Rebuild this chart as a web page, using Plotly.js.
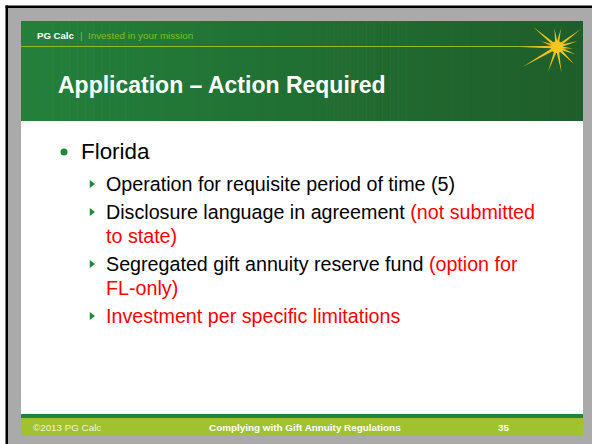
<!DOCTYPE html>
<html>
<head>
<meta charset="utf-8">
<script src="https://cdn.plot.ly/plotly-3.0.1.min.js"></script>
<style>html,body{margin:0;padding:0;background:#fff;}#slide{width:592px;height:444px;}</style>
</head>
<body>
<div id="slide"></div>
<script>
// ---- content (data) ----
const brandName = "PG Calc";
const brandTagline = "Invested in your mission";
const slideTitle = "Application \u2013 Action Required";
const topBullet = "Florida";
const itemMain = [
  "Operation for requisite period of time (5)",
  "Disclosure language in agreement",
  "Segregated gift annuity reserve fund",
  ""
];
const itemNote = [
  "",
  "(not submitted\nto state)",
  "(option for\nFL-only)",
  "Investment per specific limitations"
];
const footerLeft = "\u00A92013 PG Calc";
const footerCenter = "Complying with Gift Annuity Regulations";
const footerPage = "35";
// star rays (angle in degrees, length in px) – decoration
const rayAngles = [-140, -98, -78, -37, -16, 5, 22, 45, 80, 110, 150, 180, 200];
const rayLengths = [31, 19, 19, 30, 21, 16, 20, 24, 26, 26, 40, 37, 17];

// ---- drawing ----
const FONT = "Liberation Sans, Arial, sans-serif";
const RED = "#ff0000";
const GREEN = "#1e8a35";
const shapes = [];
const annotations = [];
function rect(x0, y0, x1, y1, color) {
  shapes.push({type: "rect", xref: "x", yref: "y", x0, y0, x1, y1, fillcolor: color, line: {width: 0}, layer: "below"});
}
// frame
rect(8, 8, 592, 444, "#aaaaaa");
rect(5.5, 5.5, 592, 8, "#000000");
rect(5.5, 5.5, 8, 444, "#000000");
// header gradient
const c0 = [35, 128, 59], c1 = [31, 94, 42];
const N = 70, hx0 = 21, hx1 = 583;
for (let i = 0; i < N; i++) {
  const t = i / (N - 1);
  const c = c0.map((v, k) => Math.round(v + (c1[k] - v) * t));
  const xa = hx0 + (hx1 - hx0) * i / N, xb = hx0 + (hx1 - hx0) * (i + 1) / N + 0.5;
  rect(xa, 21, Math.min(xb, hx1), 121, `rgb(${c[0]},${c[1]},${c[2]})`);
}
// lime line under brand
shapes.push({type: "line", xref: "x", yref: "y", x0: 21, x1: 545, y0: 46.5, y1: 46.5, line: {color: "#8cbf1e", width: 1}});
// content area
rect(21, 121, 583, 414, "#ffffff");
rect(21, 414, 583, 418, "#20853a");
rect(21, 418, 583, 436, "#a0c230");

// star
const sx = 557, sy = 47;
let path = "";
rayAngles.forEach((a, i) => {
  const r = a * Math.PI / 180, L = rayLengths[i], w = 1.6;
  const tx = sx + L * Math.cos(r), ty = sy + L * Math.sin(r);
  const px = -Math.sin(r) * w, py = Math.cos(r) * w;
  path += `M${sx + px},${sy + py} L${tx},${ty} L${sx - px},${sy - py} Z `;
});
shapes.push({type: "path", xref: "x", yref: "y", path, fillcolor: "#f2c21b", line: {width: 0}});
shapes.push({type: "circle", xref: "x", yref: "y", x0: sx - 6, x1: sx + 6, y0: sy - 6, y1: sy + 6, fillcolor: "#f5c623", line: {width: 0}});

function text(x, yBase, str, size, color, opts) {
  opts = opts || {};
  annotations.push({
    xref: "x", yref: "y", x: x, y: yBase - 0.33 * size, text: str, showarrow: false,
    xanchor: opts.anchor || "left", yanchor: "middle", borderpad: 0,
    font: {family: opts.family || FONT, size: size, color: color}
  });
}
// header texts
text(36, 39, "<b>" + brandName + "</b>", 9.6, "#ffffff");
text(79, 39, "|", 9.6, "#8cbf1e");
text(87, 39, brandTagline, 9.8, "#84bd20");
text(57, 93, "<b>" + slideTitle + "</b>", 23, "#ffffff");

// top-level bullet
const bulletTrace = {x: [64], y: [152], mode: "markers", type: "scatter", marker: {color: GREEN, size: 7}, hoverinfo: "skip"};
text(80, 159, topBullet, 22.4, "#000000");

// sub bullets
const SUB = 19.7;
let yb = 190;
const arrowX = [], arrowY = [];
itemMain.forEach((main, i) => {
  const noteLines = itemNote[i] ? itemNote[i].split("\n") : [""];
  arrowY.push(yb - 6);
  arrowX.push(91.5);
  noteLines.forEach((nl, j) => {
    let s = "";
    if (j === 0 && main) s += main + (nl ? " " : "");
    if (nl) s += `<span style="color:${RED}">${nl}</span>`;
    text(105, yb, s, SUB, "#000000");
    if (j < noteLines.length - 1) yb += 24;
  });
  yb += 28;
});
const arrowTrace = {x: arrowX, y: arrowY, mode: "markers", type: "scatter",
  marker: {symbol: "triangle-right", color: GREEN, size: 7, line: {width: 0}}, hoverinfo: "skip"};

// footer
text(32, 430.5, footerLeft, 9.8, "#eef3da");
text(305, 430.5, "<b>" + footerCenter + "</b>", 9.9, "#ffffff", {anchor: "center"});
text(503.5, 430.5, "<b>" + footerPage + "</b>", 9.9, "#ffffff", {anchor: "center"});

const layout = {
  width: 592, height: 444, autosize: false,
  margin: {l: 0, r: 0, t: 0, b: 0, pad: 0},
  paper_bgcolor: "#ffffff", plot_bgcolor: "#ffffff",
  xaxis: {range: [0, 592], visible: false, fixedrange: true},
  yaxis: {range: [444, 0], visible: false, fixedrange: true},
  showlegend: false, shapes, annotations
};
Plotly.newPlot("slide", [bulletTrace, arrowTrace], layout, {staticPlot: true, displayModeBar: false});
</script>
</body>
</html>
